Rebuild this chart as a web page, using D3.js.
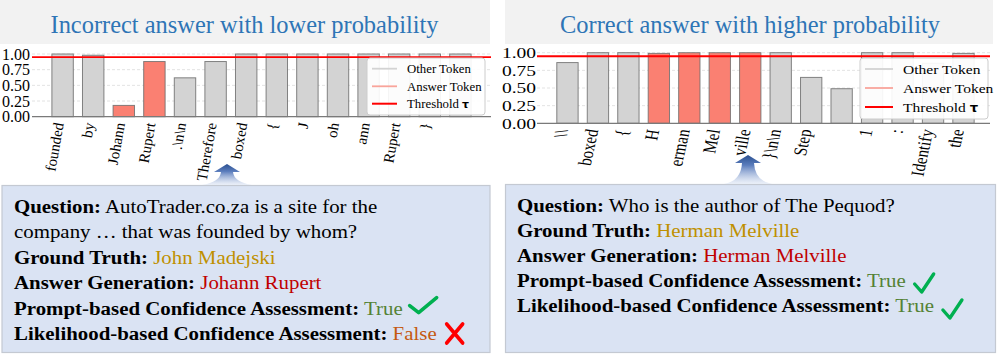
<!DOCTYPE html>
<html><head><meta charset="utf-8">
<script src="https://cdn.jsdelivr.net/npm/d3@7"></script>
<style>
body{margin:0;background:#fff;}
svg{display:block;}
text{font-family:"Liberation Serif","Times New Roman",serif;}
</style>
</head><body>
<svg id="c" width="997" height="354"></svg>
<script>
// ---------- DATA ----------
const leftTitle = "Incorrect answer with lower probability";
const rightTitle = "Correct answer with higher probability";
const leftTokens = ["founded","by","Johann","Rupert",".\\n\\n","Therefore","boxed","{","J","oh","ann","Rupert","}",""];
const leftProbs  = [1.00,0.98,0.18,0.88,0.62,0.88,1.00,1.00,1.00,1.00,1.00,1.00,1.00,1.00];
const leftIsAnswer = [0,0,1,1,0,0,0,0,0,0,0,0,0,0];
const rightTokens = ["\\\\","boxed","{","H","erman","Mel","ville","}\\n\\n","Step","","1",":","Identify","the"];
const rightProbs  = [0.86,1.00,1.00,0.99,1.00,1.00,1.00,1.00,0.65,0.49,1.00,1.00,0.85,0.99];
const rightIsAnswer = [0,0,0,1,1,1,1,0,0,0,0,0,0,0];
const threshold = 0.95;
const yTicks = [0,0.25,0.5,0.75,1.0];
const legendLabels = ["Other Token","Answer Token","Threshold "];

const leftLines = [
  [["Question:",1,"#000"],[" AutoTrader.co.za is a site for the",0,"#000"]],
  [["company \u2026 that was founded by whom?",0,"#000"]],
  [["Ground Truth:",1,"#000"],[" John Madejski",0,"#bf9000"]],
  [["Answer Generation:",1,"#000"],[" Johann Rupert",0,"#c00000"]],
  [["Prompt-based Confidence Assessment:",1,"#000"],[" True",0,"#548235"]],
  [["Likelihood-based Confidence Assessment:",1,"#000"],[" False",0,"#c55a11"]]
];
const leftMarks = [null,null,null,null,"check","cross"];
const rightLines = [
  [["Question:",1,"#000"],[" Who is the author of The Pequod?",0,"#000"]],
  [["Ground Truth:",1,"#000"],[" Herman Melville",0,"#bf9000"]],
  [["Answer Generation:",1,"#000"],[" Herman Melville",0,"#c00000"]],
  [["Prompt-based Confidence Assessment:",1,"#000"],[" True",0,"#548235"]],
  [["Likelihood-based Confidence Assessment:",1,"#000"],[" True",0,"#548235"]]
];
const rightMarks = [null,null,null,"check2","check3"];

// ---------- COLORS ----------
const C = {gray:"#d3d3d3", salmon:"#fa8072", salmonLeg:"#f9a49b", red:"#ff0000",
  title:"#2e75b6", banner:"#f2f2f2", box:"#dae3f3", boxStroke:"#c4c9d2"};

const svg = d3.select("#c");
const defs = svg.append("defs");
const grad = defs.append("linearGradient").attr("id","arrowGrad").attr("x1",0).attr("x2",0).attr("y1",0).attr("y2",1);
grad.append("stop").attr("offset","0%").attr("stop-color","#2a4f90");
grad.append("stop").attr("offset","35%").attr("stop-color","#5a7cbc");
grad.append("stop").attr("offset","100%").attr("stop-color","#dae3f3").attr("stop-opacity",0.5);

// ---------- BANNERS ----------
function banner(x0, w, title, cx){
  svg.append("rect").attr("x",x0).attr("y",0).attr("width",w).attr("height",44).attr("fill",C.banner);
  svg.append("text").attr("transform",`translate(${cx},33) scale(0.94,1)`)
    .attr("text-anchor","middle").attr("font-size",26).attr("fill",C.title).text(title);
}
banner(0,490,leftTitle,244.5);
banner(505,488,rightTitle,750);

// ---------- TEXT BOXES ----------
function textBox(x,y,w,h,lines,marks,tx,by0,step){
  svg.append("rect").attr("x",x).attr("y",y).attr("width",w).attr("height",h)
    .attr("fill",C.box).attr("stroke",C.boxStroke).attr("stroke-width",1.2);
  const sx = 1.16;
  lines.forEach((segs,i)=>{
    const by = by0 + i*step;
    const t = svg.append("text").attr("transform",`translate(${tx},${by}) scale(${sx},1)`).attr("font-size",18);
    segs.forEach(s=>{
      t.append("tspan").attr("font-weight",s[1]?"bold":"normal").attr("fill",s[2]).text(s[0]);
    });
    const m = marks[i];
    if(m){
      const end = tx + t.node().getComputedTextLength()*sx;
      drawMark(m, end, by);
    }
  });
}
function drawMark(type, end, by){
  const g = svg.append("g");
  if(type==="check"){
    const x0=end+7, y0=by-18;
    g.append("path").attr("d",`M${x0},${y0+9}L${x0+9},${y0+16}L${x0+27},${y0+1}`)
      .attr("fill","none").attr("stroke","#00b050").attr("stroke-width",3.6).attr("stroke-linecap","round").attr("stroke-linejoin","round");
  } else if(type==="cross"){
    const x0=end+10, y0=by-16;
    g.append("path").attr("d",`M${x0},${y0}L${x0+16},${y0+19}M${x0+16},${y0}L${x0},${y0+19}`)
      .attr("fill","none").attr("stroke","#ff0000").attr("stroke-width",3.6).attr("stroke-linecap","round");
  } else {
    const x0=end+9, y0= type==="check2" ? by-14 : by-13;
    g.append("path").attr("d",`M${x0},${y0+11}L${x0+7},${y0+19}L${x0+19},${y0+1}`)
      .attr("fill","none").attr("stroke","#00b050").attr("stroke-width",3.4).attr("stroke-linecap","round").attr("stroke-linejoin","round");
  }
}
textBox(2,185.5,488,167,leftLines,leftMarks,14,213,25.4);
textBox(505.5,184.5,490,168,rightLines,rightMarks,517,212,25);

// ---------- ARROWS ----------
function arrow(cx, top, bottom, half){
  const p = d3.path();
  p.moveTo(cx, top);
  p.lineTo(cx+13, top+8);
  p.lineTo(cx+6, top+8);
  p.quadraticCurveTo(cx+7, bottom-3, cx+half, bottom);
  p.lineTo(cx-half, bottom);
  p.quadraticCurveTo(cx-7, bottom-3, cx-6, top+8);
  p.lineTo(cx-13, top+8);
  p.closePath();
  svg.append("path").attr("d",p.toString()).attr("fill","url(#arrowGrad)");
}
arrow(227,164,185,25);
arrow(748,155,184,24);

// ---------- CHARTS ----------
function chart(cfg){
  const {tokens, probs, isAnswer, xDom, xRng, y0, y1, sx, tickFs, tickSx, tickX, labFs, labDx, leg} = cfg;
  const x = d3.scaleLinear().domain(xDom).range(xRng);
  const y = d3.scaleLinear().domain([0,1]).range([y0,y1]);
  const g = svg.append("g");
  g.selectAll(".grid").data(yTicks.slice(1)).join("line")
    .attr("x1",xRng[0]).attr("x2",xRng[1]).attr("y1",d=>y(d)).attr("y2",d=>y(d))
    .attr("stroke","#dcdcdc").attr("stroke-width",0.8).attr("stroke-dasharray","3,2");
  g.selectAll(".bar").data(probs).join("rect")
    .attr("x",(d,i)=>x(i-0.35)).attr("width",(d,i)=>x(i+0.35)-x(i-0.35))
    .attr("y",d=>y(d)).attr("height",d=>y(0)-y(d))
    .attr("fill",(d,i)=>isAnswer[i]?C.salmon:C.gray)
    .attr("stroke","#6e6e6e").attr("stroke-opacity",0.85).attr("stroke-width",1);
  g.append("line").attr("x1",xRng[0]).attr("x2",xRng[1]).attr("y1",y(0)).attr("y2",y(0))
    .attr("stroke","#7a7a7a").attr("stroke-width",1.2);
  g.append("line").attr("x1",xRng[0]).attr("x2",xRng[1]).attr("y1",y(threshold)).attr("y2",y(threshold))
    .attr("stroke",C.red).attr("stroke-width",1.8);
  g.selectAll(".yt").data(yTicks).join("text")
    .attr("transform",d=>`translate(${tickX},${y(d)}) scale(${tickSx},1)`)
    .attr("dy","0.35em").attr("text-anchor","end").attr("font-size",tickFs).attr("fill","#000")
    .text(d=>d3.format(".2f")(d));
  g.selectAll(".xt").data(tokens).join("text")
    .attr("transform",(d,i)=>`translate(${x(i)+labDx},${y(0)+6}) scale(${sx},1) rotate(-80)`)
    .attr("dy","0.35em").attr("text-anchor","end").attr("font-size",labFs).attr("fill","#000")
    .text(d=>d);
  const L = g.append("g");
  L.append("rect").attr("x",leg.x).attr("y",leg.y).attr("width",leg.w).attr("height",leg.h).attr("rx",3)
    .attr("fill","#fff").attr("fill-opacity",0.92).attr("stroke","#cccccc").attr("stroke-width",1);
  const cols = [C.gray, C.salmonLeg, C.red];
  legendLabels.forEach((lab,i)=>{
    const ry = leg.rows[i];
    L.append("line").attr("x1",leg.lx0).attr("x2",leg.lx1).attr("y1",ry).attr("y2",ry)
      .attr("stroke",cols[i]).attr("stroke-width",i===2?2:1.8);
    const t = L.append("text").attr("transform",`translate(${leg.tx},${ry}) scale(${leg.sx},1)`)
      .attr("dy","0.35em").attr("font-size",leg.fs).attr("fill","#000");
    t.append("tspan").text(lab);
    if(i===2) t.append("tspan").attr("font-weight","bold").attr("font-family","DejaVu Sans").attr("font-size",leg.fs*0.85).text("\u03c4");
  });
}

chart({tokens:leftTokens, probs:leftProbs, isAnswer:leftIsAnswer,
  xDom:[-1,14], xRng:[32,491], y0:116.7, y1:54, sx:1,
  tickFs:16, tickSx:1, tickX:30, labFs:15, labDx:-4,
  leg:{x:367,y:58,w:118,h:57,rows:[68.7,86.3,103.7],lx0:372,lx1:397,tx:407,fs:12.8,sx:1}});

chart({tokens:rightTokens, probs:rightProbs, isAnswer:rightIsAnswer,
  xDom:[-1,13.87], xRng:[537,990], y0:123.3, y1:52.7, sx:1.25,
  tickFs:15, tickSx:1.3, tickX:536, labFs:15, labDx:-6,
  leg:{x:860,y:58,w:128,h:61,rows:[69,88,107],lx0:865,lx1:893,tx:903,fs:13.5,sx:1.15}});
</script>
</body></html>
